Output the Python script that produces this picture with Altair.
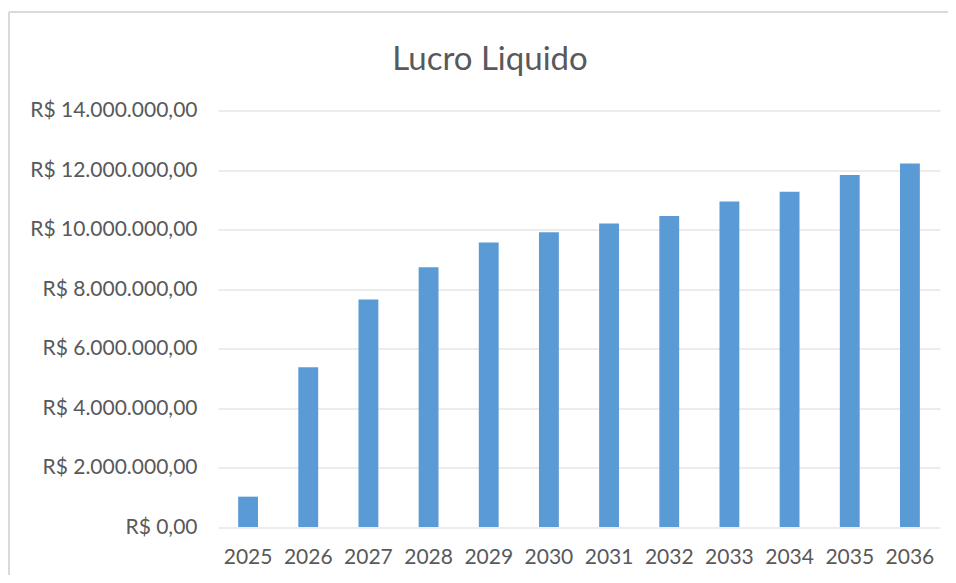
import altair as alt
import pandas as pd

years = ["2025", "2026", "2027", "2028", "2029", "2030",
         "2031", "2032", "2033", "2034", "2035", "2036"]
lucro = [1020000, 5370000, 7650000, 8730000, 9560000, 9910000,
         10200000, 10450000, 10940000, 11270000, 11830000, 12220000]
y_ticks = [0, 2000000, 4000000, 6000000, 8000000, 10000000, 12000000, 14000000]

df = pd.DataFrame({"Ano": years, "Lucro": lucro})

label_expr = ("'R$ ' + (datum.value == 0 ? '0' : "
              "format(datum.value / 1000000, 'd') + '.000.000') + ',00'")

FONT = "Lato"
GREY = "#595959"

bars = alt.Chart(df).mark_bar(color="#5B9BD5").encode(
    x=alt.X("Ano:N", sort=years, title=None,
            scale=alt.Scale(paddingInner=0.67, paddingOuter=0.335),
            axis=alt.Axis(labelAngle=0, ticks=False, domain=False, grid=False,
                          labelFont=FONT, labelFontSize=21, labelColor=GREY,
                          labelPadding=19)),
    y=alt.Y("Lucro:Q", title=None,
            scale=alt.Scale(domain=[0, 14000000], nice=False),
            axis=alt.Axis(values=y_ticks, labelExpr=label_expr, ticks=False,
                          domain=False, gridColor="#d9d9d9", gridWidth=1.2,
                          labelFont=FONT, labelFontSize=21, labelColor=GREY,
                          labelPadding=21)),
)

frame_df = pd.DataFrame({"a": [0]})
left_border = alt.Chart(frame_df).mark_rule(color="#d9d9d9", strokeWidth=2).encode(
    x=alt.value(-209), y=alt.value(-98.5), y2=alt.value(470))
top_border = alt.Chart(frame_df).mark_rule(color="#d9d9d9", strokeWidth=2).encode(
    x=alt.value(-209), x2=alt.value(740), y=alt.value(-98.5))

chart = alt.layer(left_border, top_border, bars).properties(
    width=722,
    height=416.5,
    autosize=alt.AutoSizeParams(type="none"),
    padding={"left": 210, "top": 102.5, "right": 8, "bottom": 48},
    title=alt.Title("Lucro Liquido", font=FONT, fontSize=33, color=GREY,
                    fontWeight="normal", anchor="middle", dx=-89,
                    baseline="alphabetic", offset=0, dy=92),
).configure_view(stroke=None)

chart.save("out.html", embed_options={"renderer": "svg", "actions": False})
